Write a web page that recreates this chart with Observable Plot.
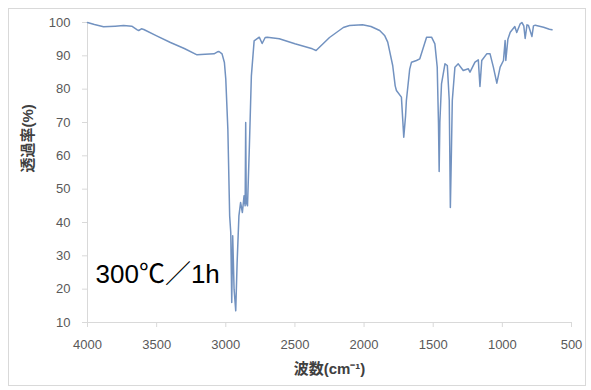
<!DOCTYPE html>
<html>
<head>
<meta charset="utf-8">
<script src="https://cdn.jsdelivr.net/npm/d3@7"></script>
<script src="https://cdn.jsdelivr.net/npm/@observablehq/plot@0.6"></script>
<style>
  html, body { margin: 0; padding: 0; background: #fff; }
  #wrap { position: relative; width: 591px; height: 390px; }
  #border { position: absolute; left: 8px; top: 8px; width: 576px; height: 376px; border: 1px solid #d9d9d9; pointer-events: none; }
</style>
</head>
<body>
<div id="wrap"><div id="border"></div></div>
<script>
// Wavenumber (cm^-1) and transmittance (%)
const wavenumber = [4000,3950,3884,3800,3739,3680,3640,3630,3610,3593,3500,3400,3300,3208,3150,3085,3060,3049,3027,3010,3000,2985,2972,2964,2957,2950,2940,2928,2918,2905,2893,2880,2868,2860,2856,2852,2843,2830,2815,2795,2758,2737,2715,2700,2613,2500,2374,2347,2250,2150,2105,2011,1950,1887,1850,1829,1793,1775,1766,1730,1713,1700,1694,1670,1657,1621,1597,1548,1512,1488,1471,1462,1457,1452,1440,1415,1398,1384,1376,1368,1362,1343,1319,1283,1246,1234,1198,1174,1162,1149,1113,1089,1065,1040,1016,992,980,975,960,943,910,896,871,859,845,835,822,811,786,775,762,702,660,641];
const transmittance = [100,99.4,98.7,98.9,99.1,98.9,97.8,97.6,98.1,97.9,96.0,94.0,92.2,90.3,90.5,90.6,91.2,91.3,90.6,88,83,68,42,37,16,36,20,13.5,28,42,46,43,48,45,70,46,45,62,84,94.5,95.6,93.7,95.5,95.6,95.1,93.6,92.1,91.6,95.5,98.5,99.1,99.3,98.8,97.6,96.0,94.1,87.1,81,79.6,77.6,65.6,72,76.6,86,88.1,88.6,89.1,95.6,95.6,93.6,86.6,70,55.3,70,81.6,87.6,87.1,76.6,44.5,62,76.6,86.6,87.6,85.6,86.1,85.1,88.1,88.8,80.8,88.6,90.6,90.6,86.6,81.8,86.6,88.6,94.6,88.6,95,97.1,98.8,97.0,99.6,100,99,95.2,99.3,99.1,95.8,99,99.2,98.6,98,97.8];
const xTicks = [4000,3500,3000,2500,2000,1500,1000,500];
const yTicks = [10,20,30,40,50,60,70,80,90,100];
const xLabel = "波数(cm⁻¹)";
const yLabel = "透過率(%)";
const note = "300℃／1h";

const data = wavenumber.map((w, i) => ({w, t: transmittance[i]}));
const font = "'Liberation Sans', 'Noto Sans CJK JP', sans-serif";

const chart = Plot.plot({
  width: 591,
  height: 390,
  marginLeft: 87,
  marginRight: 20,
  marginTop: 22,
  marginBottom: 68,
  style: {fontFamily: font, background: "transparent"},
  x: {domain: [4000, 500]},
  y: {domain: [10, 100]},
  marks: [
    Plot.ruleY([10], {stroke: "#d9d9d9"}),
    Plot.ruleX([4000], {stroke: "#d9d9d9"}),
    Plot.axisX({ticks: xTicks, tickSize: 5, tickPadding: 12, stroke: "#d9d9d9", fill: "#595959", fontSize: 13, tickFormat: d => String(d), label: null}),
    Plot.axisY({ticks: yTicks, tickSize: 5, tickPadding: 12, stroke: "#d9d9d9", fill: "#595959", fontSize: 13, tickFormat: d => String(d), label: null}),
    Plot.line(data, {x: "w", y: "t", stroke: "#7292c0", strokeWidth: 1.5, curve: "linear"}),
    Plot.text([yLabel], {frameAnchor: "left", rotate: -90, dx: -59, dy: 0, fontSize: 15, fontWeight: "bold", fill: "#404040"}),
    Plot.text([xLabel], {frameAnchor: "bottom", dy: 51, fontSize: 15, fontWeight: "bold", fill: "#404040"}),
    Plot.text([note], {frameAnchor: "bottom-left", textAnchor: "start", lineAnchor: "bottom", dx: 8, dy: -40, fontSize: 26, fill: "#000"})
  ]
});
document.getElementById("wrap").prepend(chart);
</script>
</body>
</html>
